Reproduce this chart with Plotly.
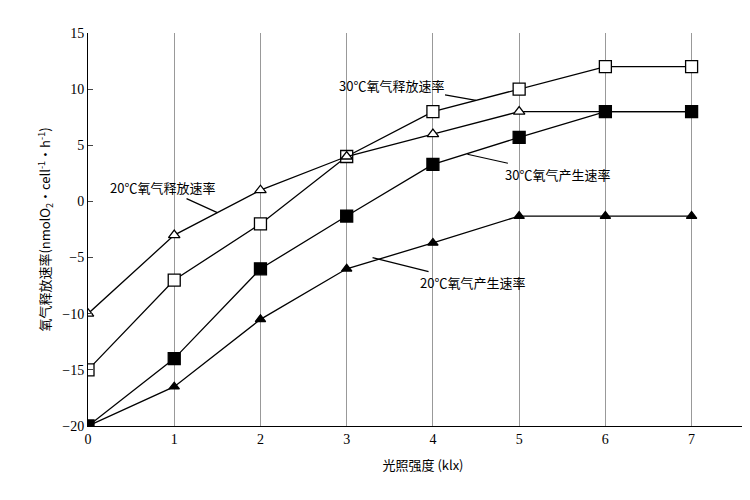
import plotly.graph_objects as go

x = [0, 1, 2, 3, 4, 5, 6, 7]
rel30 = [-15, -7, -2, 4, 8, 10, 12, 12]
rel20 = [-10, -3, 1, 4, 6, 8, 8, 8]
pro30 = [-20, -14, -6, -1.3, 3.3, 5.7, 8, 8]
pro20 = [-20, -16.5, -10.5, -6, -3.7, -1.3, -1.3, -1.3]

fig = go.Figure()
def add(y, sym, fill, sz):
    fig.add_trace(go.Scatter(x=x, y=y, mode="lines+markers",
        line=dict(color="black", width=1.3),
        marker=dict(symbol=sym, size=sz, color=fill,
                    line=dict(color="black", width=1.3)), showlegend=False))
add(rel30, "square", "white", 12)
add(rel20, "triangle-up", "white", 10)
add(pro30, "square", "black", 12)
add(pro20, "triangle-up", "black", 9)

f = dict(family="Noto Sans CJK SC, serif", size=13, color="black")
def ann(t, tx, ty, ax, ay):
    fig.add_annotation(x=ax, y=ay, ax=tx, ay=ty, axref="pixel", ayref="pixel",
        xref="x", yref="y", text=t, showarrow=True, arrowhead=0, arrowwidth=1.2,
        arrowcolor="black", font=f)
ann("30℃氧气释放速率", -85, -15, 4.5, 9.0)
ann("20℃氧气释放速率", -55, -25, 1.5, -1.0)
ann("30℃氧气产生速率", 90, 20, 4.4, 4.2)
ann("20℃氧气产生速率", 100, 25, 3.3, -5.0)

fig.update_layout(width=750, height=500, margin=dict(l=80, r=0, t=25, b=82),
    plot_bgcolor="white", paper_bgcolor="white", font=f)
fig.update_xaxes(range=[0, 7.77], tickvals=list(range(8)), showgrid=True, gridcolor="#999",
    gridwidth=1, showline=True, linecolor="black", ticks="", zeroline=False,
    title=dict(text="光照强度 (klx)", font=f), tickfont=dict(family="Liberation Serif", size=14, color="black"))
fig.update_yaxes(range=[-20, 15], dtick=5, showgrid=False, showline=True, linecolor="black",
    ticks="inside", zeroline=False, tickfont=dict(family="Liberation Serif", size=14, color="black"),
    title=dict(text="氧气释放速率(nmolO<sub>2</sub>·cell<sup>-1</sup>·h<sup>-1</sup>)", font=f, standoff=8))
fig.write_html("out.html")
